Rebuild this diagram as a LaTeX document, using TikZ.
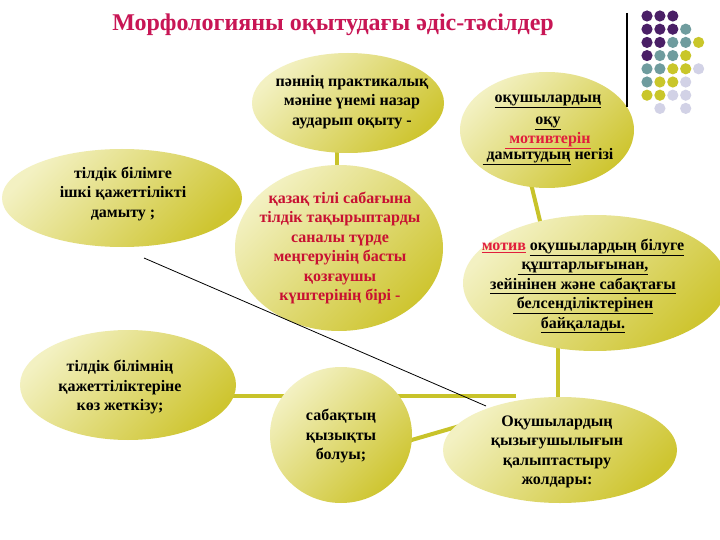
\documentclass[tikz,border=0pt]{standalone}
\usepackage{fontspec}
\setmainfont{Liberation Serif}
\usetikzlibrary{shapes.geometric,calc,backgrounds}
\definecolor{yl}{HTML}{F3F1C2}
\definecolor{yd}{HTML}{CEC530}
\definecolor{conn}{HTML}{C8C32A}
\definecolor{ttl}{RGB}{200,22,85}
\definecolor{crim}{RGB}{200,16,50}
\definecolor{lnkred}{RGB}{225,30,60}
\definecolor{dpur}{HTML}{4A1F66}
\definecolor{dteal}{HTML}{6F9C9E}
\definecolor{dyel}{HTML}{C9C62A}
\definecolor{dlav}{HTML}{D2D2E6}
\newcommand\btxt{\fontsize{16}{19.5}\selectfont\bfseries}
\begin{document}
\begin{tikzpicture}[x=1pt,y=-1pt,
  blob/.style={ellipse, inner sep=0pt, top color=yl, bottom color=yd, shading angle=45},
  lbl/.style={align=center, font=\btxt, inner sep=0pt},
  link/.style={draw=conn, line width=4pt},
]
\useasboundingbox (0,0) rectangle (720,540);

% shapes (nodes)
\node[blob, minimum width=192pt, minimum height=100pt] (tc) at (348,103) {};
\node[blob, minimum width=174pt, minimum height=116pt] (tr) at (547,130) {};
\node[blob, minimum width=240pt, minimum height=98pt] (ml) at (122,198) {};
\node[blob, minimum width=208pt, minimum height=166pt] (mc) at (339,248) {};
\node[blob, minimum width=264pt, minimum height=136pt] (mr) at (595,283) {};
\node[blob, minimum width=216pt, minimum height=110pt] (bl) at (128,385) {};
\node[blob, minimum width=142pt, minimum height=136pt] (bc) at (341,435) {};
\node[blob, minimum width=234pt, minimum height=106pt] (br) at (560,450) {};

% connectors behind shapes
\coordinate (hend) at (516,396);
\begin{scope}[on background layer]
\fill[white] (0,0) rectangle (720,540);
\draw[link] ($(mc)+(-2,0)$) -- ($(mc |- tc)+(-2,0)$);
\draw[link] ($(tr)+(-29,0)$) -- ($(mr)+(-40,0)$);
\draw[link] ($(br)+(-2,0)$) -- ($(br |- mr)+(-2,0)$);
\draw[link] (bl.center |- hend) -- (hend);
\draw[link] ($(bc)+(50,11)$) -- ($(br)+(-90,-27)$);
\end{scope}

% title
\node[font=\fontsize{24}{28}\selectfont\bfseries, text=ttl] (title) at (333,25) {Морфологияны оқытудағы әдіс-тәсілдер};

% texts
\node[lbl] (tct) at ($(tc)+(4,-1)$) {пәннің практикалық\\мәніне үнемі назар\\аударып оқыту -};
\node[lbl] (trt) at ($(tr)+(1,0)$) {\underline{оқушылардың}\\[2pt]\underline{оқу}\\{\color{lnkred}\underline{\ мотивтерін}}\\[-4pt]\underline{\ дамытудың} негізі};
\node[lbl] (mlt) at ($(ml)+(1,-4)$) {тілдік білімге\\ішкі қажеттілікті\\дамыту ;};
\node[lbl, text=crim] (mct) at ($(mc)+(1,0)$) {қазақ тілі сабағына\\тілдік тақырыптарды\\саналы түрде\\меңгеруінің басты\\қозғаушы\\күштерінің бірі -};
\node[lbl] (mrt) at ($(mr)+(-12,3)$) {{\color{lnkred}\underline{мотив}} \underline{оқушылардың білуге}\\\underline{\ құштарлығынан,}\\\underline{зейінінен және сабақтағы}\\\underline{\ белсенділіктерінен}\\\underline{байқалады.}};
\node[lbl] (blt) at ($(bl)+(-8,2)$) {тілдік білімнің\\қажеттіліктеріне\\көз жеткізу;};
\node[lbl] (bct) at ($(bc)+(0,1)$) {сабақтың\\қызықты\\болуы;};
\node[lbl] (brt) at ($(br)+(-3,2)$) {Оқушылардың\\қызығушылығын\\қалыптастыру\\жолдары:};

% thin black line
\coordinate (k1) at (144,258);
\coordinate (k2) at (486,406);
\draw[black, line width=0.8pt] (k1) -- (k2);

% dots decoration
\draw[black, line width=1.5pt] (627,13) -- (627,107);
\foreach \c/\i/\j in {dpur/0/0,dpur/1/0,dpur/2/0,
  dpur/0/1,dpur/1/1,dpur/2/1,dteal/3/1,
  dpur/0/2,dpur/1/2,dteal/2/2,dteal/3/2,dyel/4/2,
  dpur/0/3,dteal/1/3,dteal/2/3,dyel/3/3,
  dteal/0/4,dteal/1/4,dyel/2/4,dyel/3/4,dlav/4/4,
  dteal/0/5,dyel/1/5,dyel/2/5,dlav/3/5,
  dyel/0/6,dyel/1/6,dlav/2/6,dlav/3/6,
  dlav/1/7,dlav/3/7}
  \fill[\c] ({647+12.9*\i},{16+13.2*\j}) circle (5.6pt);
\end{tikzpicture}
\end{document}
